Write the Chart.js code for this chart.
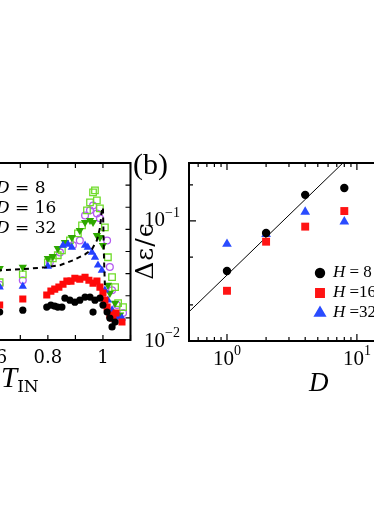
<!DOCTYPE html>
<html>
<head>
<meta charset="utf-8">
<script src="https://cdn.jsdelivr.net/npm/chart.js@4.4.1/dist/chart.umd.min.js"></script>
<style>
  html, body { margin: 0; padding: 0; background: #fff; }
  body { width: 374px; height: 528px; overflow: hidden; position: relative; }
  canvas { position: absolute; }
  .lbl { position: absolute; color: #000; white-space: nowrap; line-height: 1; font-family: "Liberation Serif", "DejaVu Serif", serif; }
</style>
</head>
<body>
<canvas id="chartA" width="200" height="270" style="left:-60px;top:130px"></canvas>
<canvas id="chartB" width="290" height="270" style="left:130px;top:130px"></canvas>

<!-- panel (a) legend text, markers are outside the crop -->
<div class="lbl" style="left:-4px;top:179px;font-size:17px;font-family:'DejaVu Serif'"><i>D</i> = 8</div>
<div class="lbl" style="left:-4px;top:199px;font-size:17px;font-family:'DejaVu Serif'"><i>D</i> = 16</div>
<div class="lbl" style="left:-4px;top:219px;font-size:17px;font-family:'DejaVu Serif'"><i>D</i> = 32</div>
<div class="lbl" style="left:1px;top:363px;font-size:29px;"><i>T</i><span style="font-family:'DejaVu Serif';font-size:17px;position:relative;top:5px">IN</span></div>

<div class="lbl" style="left:133px;top:149px;font-size:30px;">(b)</div>
<div class="lbl" style="left:144px;top:251px;font-size:25px;letter-spacing:1px;font-family:'DejaVu Serif';transform:translate(-50%,-50%) rotate(-90deg);">Δε/ϵ</div>
<div class="lbl" style="left:309px;top:369px;font-size:27px;"><i>D</i></div>

<script>
// ---- panel (a): quantity vs T_IN, points as [T, value]
const aDashed = [[0.55,3.15],[0.625,3.15],[0.709,3.2],[0.796,3.29],[0.844,3.38],[0.891,3.6],[0.935,3.87],[0.96,4.1],[0.978,4.5],[0.989,5.05],[0.996,5.86],[1.0,5.99],[1.004,3.6],[1.007,2.48]];
const aBlack = [[0.625,1.26],[0.709,1.35],[0.796,1.49],[0.811,1.58],[0.825,1.53],[0.836,1.49],[0.851,1.49],[0.862,1.89],[0.88,1.8],[0.898,1.71],[0.916,1.8],[0.935,1.94],[0.953,1.94],[0.964,1.26],[0.971,1.8],[0.989,1.89],[1.0,1.58],[1.015,1.26],[1.025,0.99],[1.033,0.59],[1.044,0.81]];
const aRed = [[0.625,1.58],[0.709,1.85],[0.796,2.03],[0.811,2.21],[0.825,2.3],[0.84,2.39],[0.855,2.52],[0.869,2.66],[0.884,2.66],[0.898,2.79],[0.916,2.75],[0.935,2.84],[0.949,2.7],[0.964,2.57],[0.978,2.66],[0.989,2.39],[1.0,2.12],[1.007,1.8],[1.015,1.49],[1.025,1.13],[1.036,0.99],[1.047,1.22],[1.069,0.81]];
const aBlue = [[0.625,2.39],[0.709,2.43],[0.8,3.33],[0.855,4.28],[0.873,4.32],[0.887,4.19],[0.935,4.28],[0.945,4.19],[0.96,3.96],[0.971,3.74],[0.982,3.38],[0.996,3.15],[1.007,2.25],[1.018,1.8],[1.033,1.35],[1.044,1.13],[1.055,1.04],[1.069,0.99]];
const aGreenTri = [[0.625,3.24],[0.709,3.29],[0.8,3.69],[0.818,3.78],[0.836,4.14],[0.862,4.41],[0.887,4.64],[0.916,4.95],[0.935,5.32],[0.953,5.41],[0.964,5.32],[0.978,4.73],[0.989,4.64],[1.0,4.28],[1.018,2.48],[1.025,2.12],[1.044,1.67],[1.062,1.13]];
const aGreenSq = [[0.625,2.61],[0.709,2.97],[0.8,3.51],[0.818,3.69],[0.836,3.83],[0.851,4.05],[0.88,4.5],[0.909,4.82],[0.924,5.18],[0.942,5.86],[0.953,6.22],[0.964,6.67],[0.971,6.76],[0.978,6.31],[0.989,5.95],[1.007,5.09],[1.018,3.74],[1.033,2.84],[1.044,2.39],[1.055,1.67],[1.073,1.49]];
const aPurple = [[0.625,2.5],[0.709,2.7],[0.807,3.51],[0.844,3.96],[0.891,4.28],[0.916,4.5],[0.935,5.63],[0.953,5.86],[0.964,6.08],[0.978,5.72],[0.989,5.5],[1.015,4.5],[1.025,3.3],[1.033,2.25],[1.051,1.58],[1.073,1.22]];
const aTickX = [0.6, 0.7, 0.8, 0.9, 1.0, 1.1];
const aTickXLabels = ['0.6', '', '0.8', '', '1', ''];
const aTickY = [1, 2, 3, 4, 5, 6, 7];

// ---- panel (b): relative change vs D for three H
const bD = [1, 2, 4, 8];
const bH8 = [0.0383, 0.0794, 0.165, 0.188];
const bH16 = [0.0262, 0.0672, 0.0897, 0.121];
const bH32 = [0.0643, 0.0775, 0.119, 0.0987];
const bNames = ['H = 8', 'H =16', 'H =32'];
const bFitD = [0.51, 7.8];
const bFitVal = [0.0175, 0.304];
const bMajorX = [1, 10];
const bMinorX = [0.6, 0.7, 0.8, 0.9, 2, 3, 4, 5, 6, 7, 8, 9];
const bMajorY = [0.01, 0.1];
const bMinorY = [0.02, 0.05, 0.2];

const pts = arr => arr.map(p => ({x: p[0], y: p[1]}));
const zip = (xs, ys) => xs.map((x, i) => ({x: x, y: ys[i]}));
const SERIF = '"Liberation Serif", "DejaVu Serif", serif';

// draws box, inward ticks on all 4 sides and the tick labels
const framePlugin = {
  id: 'frame',
  afterDraw(chart, args, o) {
    const ctx = chart.ctx, a = chart.chartArea;
    const sx = chart.scales.x, sy = chart.scales.y;
    ctx.save();
    ctx.strokeStyle = '#000';
    ctx.lineWidth = 1.2;
    ctx.beginPath();
    const xt = (vals, len) => vals.forEach(v => {
      const p = sx.getPixelForValue(v);
      ctx.moveTo(p, a.bottom); ctx.lineTo(p, a.bottom - len);
      ctx.moveTo(p, a.top); ctx.lineTo(p, a.top + len);
    });
    const yt = (vals, len) => vals.forEach(v => {
      const p = sy.getPixelForValue(v);
      ctx.moveTo(a.left, p); ctx.lineTo(a.left + len, p);
      ctx.moveTo(a.right, p); ctx.lineTo(a.right - len, p);
    });
    xt(o.xMajor, o.major); xt(o.xMinor || [], o.minor);
    yt(o.yMajor, o.major); yt(o.yMinor || [], o.minor);
    ctx.stroke();
    ctx.lineWidth = 2;
    ctx.strokeRect(a.left, a.top, a.right - a.left, a.bottom - a.top);

    ctx.fillStyle = '#000';
    ctx.textBaseline = 'middle';
    if (o.linLabels) {
      ctx.font = '18px "DejaVu Serif"';
      ctx.textAlign = 'center';
      o.xMajor.forEach((v, i) => ctx.fillText(o.linLabels[i], sx.getPixelForValue(v), a.bottom + 18));
    }
    if (o.pow) {
      const pow = (x, y, v, align) => {
        const e = String(Math.round(Math.log10(v))).replace('-', '\u2212');
        ctx.font = '21px ' + SERIF;
        const w1 = ctx.measureText('10').width;
        ctx.font = '14px ' + SERIF;
        const w2 = ctx.measureText(e).width;
        const x0 = align === 'right' ? x - w1 - w2 : x - (w1 + w2) / 2;
        ctx.textAlign = 'left';
        ctx.font = '21px ' + SERIF;
        ctx.fillText('10', x0, y);
        ctx.font = '14px ' + SERIF;
        ctx.fillText(e, x0 + w1, y - 8);
      };
      o.xMajor.forEach(v => pow(sx.getPixelForValue(v), a.bottom + 18, v, 'center'));
      o.yMajor.forEach(v => pow(a.left - 9, sy.getPixelForValue(v), v, 'right'));
    }
    if (o.legend) {
      const L = o.legend;
      chart.data.datasets.slice(0, 3).forEach((ds, i) => {
        const y = L.y + i * L.dy;
        ctx.fillStyle = ds.backgroundColor;
        ctx.strokeStyle = ds.borderColor;
        Chart.helpers.drawPoint(ctx, {pointStyle: ds.pointStyle, radius: ds.pointRadius, rotation: 0, borderWidth: 1}, L.x, y);
        ctx.fillStyle = '#000';
        ctx.textAlign = 'left';
        ctx.font = 'italic 17px ' + SERIF;
        ctx.fillText('H', L.x + 13, y);
        const wH = ctx.measureText('H').width;
        ctx.font = '17px ' + SERIF;
        ctx.fillText(ds.label.slice(1), L.x + 13 + wH, y);
      });
    }
    ctx.restore();
  }
};

const fixW = w => (s => { s.width = w; });
const fixH = h => (s => { s.height = h; });
const noAxis = {ticks: {display: false}, grid: {display: false}, border: {display: false}};

new Chart(document.getElementById('chartA'), {
  type: 'scatter',
  data: {
    datasets: [
      {label: 'fit', data: pts(aDashed), showLine: true, borderColor: '#000', borderWidth: 2, borderDash: [5, 4], pointRadius: 0, tension: 0},
      {label: 'black', data: pts(aBlack), pointStyle: 'circle', pointRadius: 3.6, backgroundColor: '#000', borderColor: '#000', borderWidth: 0},
      {label: 'red', data: pts(aRed), pointStyle: 'rect', pointRadius: 5, backgroundColor: '#ff0a0a', borderColor: '#ff0a0a', borderWidth: 0},
      {label: 'blue', data: pts(aBlue), pointStyle: 'triangle', pointRadius: 4.8, backgroundColor: '#2440ff', borderColor: '#2440ff', borderWidth: 0},
      {label: 'greenTri', data: pts(aGreenTri), pointStyle: 'triangle', rotation: 180, pointRadius: 4.8, backgroundColor: '#2ea800', borderColor: '#2ea800', borderWidth: 0},
      {label: 'greenSq', data: pts(aGreenSq), pointStyle: 'rect', pointRadius: 4.6, backgroundColor: 'rgba(0,0,0,0)', borderColor: '#6fdc2a', borderWidth: 1.3},
      {label: 'purple', data: pts(aPurple), pointStyle: 'circle', pointRadius: 3.4, backgroundColor: 'rgba(0,0,0,0)', borderColor: '#b45cf0', borderWidth: 1.3}
    ]
  },
  options: {
    responsive: false,
    animation: false,
    devicePixelRatio: 1,
    layout: {padding: {left: 0, right: 9.5, top: 33, bottom: 0}},
    plugins: {
      legend: {display: false}, tooltip: {enabled: false},
      frame: {xMajor: aTickX, yMajor: aTickY, major: 5, minor: 3, linLabels: aTickXLabels}
    },
    scales: {
      x: Object.assign({type: 'linear', min: 0.55, max: 1.1, afterFit: fixH(60)}, noAxis),
      y: Object.assign({type: 'linear', min: 0, max: 8, afterFit: fixW(39)}, noAxis)
    }
  },
  plugins: [framePlugin]
});

new Chart(document.getElementById('chartB'), {
  type: 'scatter',
  data: {
    datasets: [
      {label: bNames[0], data: zip(bD, bH8), pointStyle: 'circle', pointRadius: 4.2, backgroundColor: '#000', borderColor: '#000', borderWidth: 0},
      {label: bNames[1], data: zip(bD, bH16), pointStyle: 'rect', pointRadius: 5.6, backgroundColor: '#ff1414', borderColor: '#ff1414', borderWidth: 0},
      {label: bNames[2], data: zip(bD, bH32), pointStyle: 'triangle', pointRadius: 5.6, backgroundColor: '#2a4cff', borderColor: '#2a4cff', borderWidth: 0},
      {label: 'fit', data: zip(bFitD, bFitVal), showLine: true, borderColor: '#000', borderWidth: 1, pointRadius: 0, tension: 0}
    ]
  },
  options: {
    responsive: false,
    animation: false,
    devicePixelRatio: 1,
    layout: {padding: {left: 0, right: 24, top: 33, bottom: 0}},
    plugins: {
      legend: {display: false}, tooltip: {enabled: false},
      frame: {xMajor: bMajorX, xMinor: bMinorX, yMajor: bMajorY, yMinor: bMinorY, major: 7, minor: 4, pow: true,
              legend: {x: 190, y: 143, dy: 20}}
    },
    scales: {
      x: Object.assign({type: 'logarithmic', min: 0.51, max: 20, afterFit: fixH(59)}, noAxis),
      y: Object.assign({type: 'logarithmic', min: 0.01, max: 0.304, afterFit: fixW(59)}, noAxis)
    }
  },
  plugins: [framePlugin]
});
</script>
</body>
</html>
